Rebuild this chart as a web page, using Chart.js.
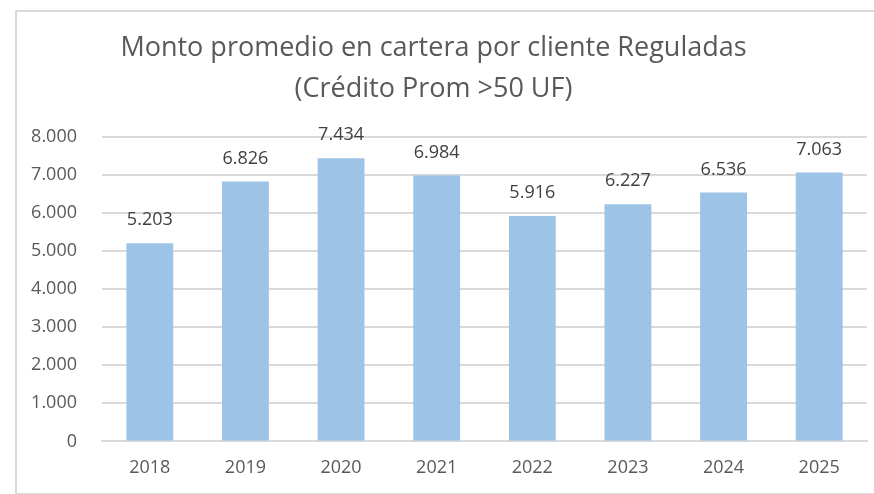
<!DOCTYPE html>
<html>
<head>
  <title>Monto promedio en cartera por cliente Reguladas</title>
  <script src="https://cdn.jsdelivr.net/npm/chart.js"></script>
  <style>
    html, body { margin: 0; background: #fff; overflow: hidden; width: 874px; height: 494px; }
    #frame { position: absolute; left: 15px; top: 10px; width: 857px; height: 481px; border: 2px solid #d9d9d9; border-right: none; }
    #wrap { position: absolute; left: 0; top: 0; width: 874px; height: 494px; }
  </style>
</head>
<body>
  <div id="frame"></div>
  <div id="wrap"><canvas id="chart"></canvas></div>
  <script>
    // data
    const years = ['2018', '2019', '2020', '2021', '2022', '2023', '2024', '2025'];
    const montos = [5203, 6826, 7434, 6984, 5916, 6227, 6536, 7063];
    const titleLines = ['Monto promedio en cartera por cliente Reguladas', '(Crédito Prom >50 UF)'];

    // thousands with a dot, like the original
    function fmt(v) {
      return v.toString().replace(/\B(?=(\d{3})+(?!\d))/g, '.');
    }

    // draws the value above each bar
    const valueLabels = {
      id: 'valueLabels',
      afterDatasetsDraw(chart) {
        const ctx = chart.ctx;
        const meta = chart.getDatasetMeta(0);
        ctx.save();
        ctx.font = '18px "Open Sans"';
        ctx.fillStyle = '#404040';
        ctx.textAlign = 'center';
        ctx.textBaseline = 'middle';
        meta.data.forEach((bar, i) => {
          ctx.fillText(fmt(montos[i]), bar.x, bar.y - 23);
        });
        ctx.restore();
      }
    };

    new Chart(document.getElementById('chart'), {
      type: 'bar',
      data: {
        labels: years,
        datasets: [{
          data: montos,
          backgroundColor: '#9dc3e6',
          barPercentage: 0.49,
          categoryPercentage: 1.0
        }]
      },
      options: {
        responsive: true,
        maintainAspectRatio: false,
        animation: false,
        layout: { padding: { left: 0, right: 7, top: 0, bottom: 7 } },
        plugins: {
          legend: { display: false },
          tooltip: { enabled: false },
          title: {
            display: true,
            text: titleLines,
            color: '#595959',
            font: { family: 'Open Sans', size: 27, weight: 'normal', lineHeight: 1.55 },
            padding: { top: 27, bottom: 26 }
          }
        },
        scales: {
          x: {
            grid: { display: false },
            border: { color: '#d9d9d9', width: 2 },
            ticks: { color: '#595959', font: { family: 'Open Sans', size: 18 }, padding: 8 }
          },
          y: {
            min: 0,
            max: 8000,
            afterFit(scale) { scale.width = 102; },
            grid: { color: '#d9d9d9', lineWidth: 2, drawTicks: false },
            border: { display: false },
            ticks: {
              stepSize: 1000,
              color: '#595959',
              font: { family: 'Open Sans', size: 18 },
              padding: 25,
              callback: (v) => fmt(v)
            }
          }
        }
      },
      plugins: [valueLabels]
    });
  </script>
</body>
</html>
